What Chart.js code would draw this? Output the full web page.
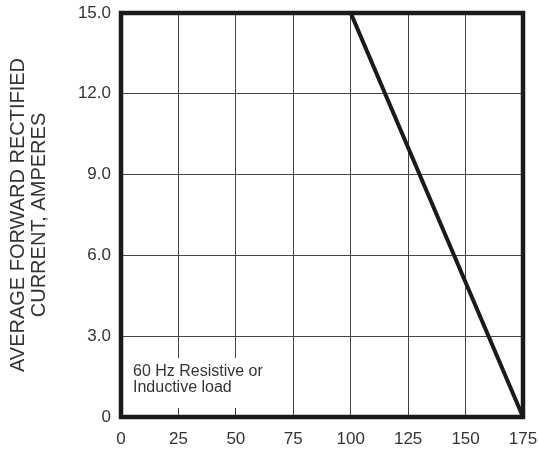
<!DOCTYPE html>
<html>
<head>
<meta charset="utf-8">
<script src="https://cdn.jsdelivr.net/npm/chart.js@4/dist/chart.umd.min.js"></script>
<style>
  body { margin: 0; background: #fff; }
</style>
</head>
<body>
<canvas id="myChart" width="538" height="450"></canvas>
<script>
const ctx = document.getElementById("myChart").getContext("2d");

// curve points (temperature vs current)
const temperatures = [0, 100, 175];
const currents = [15, 15, 0];

const xTicks = [0, 25, 50, 75, 100, 125, 150, 175];
const yTicks = [0, 3, 6, 9, 12, 15];

const yTitle = ["AVERAGE FORWARD RECTIFIED", "CURRENT, AMPERES"];
const noteLines = ["60 Hz Resistive or", "Inductive load"];

const inkColor = "#1a1a1a";
const textColor = "#333333";

// white box with the note + thick frame around the plot
const frameAndNote = {
  id: "frameAndNote",
  afterDatasetsDraw(chart) {
    const c = chart.ctx;
    const a = chart.chartArea;
    c.save();
    c.fillStyle = "#ffffff";
    c.fillRect(a.left + 3, a.bottom - 59, 162, 50);
    c.fillStyle = textColor;
    c.font = "16px 'Liberation Sans', Arial, sans-serif";
    c.textBaseline = "alphabetic";
    c.textAlign = "left";
    c.fillText(noteLines[0], a.left + 12, a.bottom - 41);
    c.fillText(noteLines[1], a.left + 12, a.bottom - 25);
    c.strokeStyle = inkColor;
    c.lineWidth = 4.5;
    c.strokeRect(a.left, a.top, a.right - a.left, a.bottom - a.top);
    c.restore();
  }
};

const myChart = new Chart(ctx, {
  type: "line",
  data: {
    datasets: [
      {
        data: temperatures.map((t, i) => ({ x: t, y: currents[i] })),
        borderColor: inkColor,
        borderWidth: 4,
        pointRadius: 0,
        tension: 0,
        clip: false,
      },
    ],
  },
  options: {
    animation: false,
    responsive: false,
    layout: {
      padding: { top: 13, right: 15, left: 0, bottom: 0 }
    },
    scales: {
      x: {
        type: "linear",
        min: 0,
        max: 175,
        afterFit: (scale) => {
          scale.height = 33;
          scale.paddingLeft = 0;
          scale.paddingRight = 0;
        },
        afterBuildTicks: (scale) => { scale.ticks = xTicks.map(v => ({ value: v })); },
        ticks: {
          padding: 12,
          color: textColor,
          font: { family: "'Liberation Sans', Arial, sans-serif", size: 17 },
          callback: (v) => String(v),
        },
        grid: { color: "#444444", lineWidth: 1, drawTicks: false },
        border: { display: false }
      },
      y: {
        min: 0,
        max: 15,
        afterFit: (scale) => {
          scale.width = 121;
          scale.paddingTop = 0;
          scale.paddingBottom = 0;
        },
        afterBuildTicks: (scale) => { scale.ticks = yTicks.map(v => ({ value: v })); },
        ticks: {
          padding: 10,
          color: textColor,
          font: { family: "'Liberation Sans', Arial, sans-serif", size: 17 },
          callback: (v) => (v === 0 ? "0" : v.toFixed(1)),
        },
        grid: { color: "#444444", lineWidth: 1, drawTicks: false },
        border: { display: false },
        title: {
          display: true,
          text: yTitle,
          color: textColor,
          padding: { top: 8, bottom: 0 },
          font: { family: "'Liberation Sans', Arial, sans-serif", size: 20, lineHeight: 1.05 }
        }
      }
    },
    plugins: {
      legend: { display: false },
      tooltip: { enabled: false }
    }
  },
  plugins: [frameAndNote]
});
</script>
</body>
</html>
